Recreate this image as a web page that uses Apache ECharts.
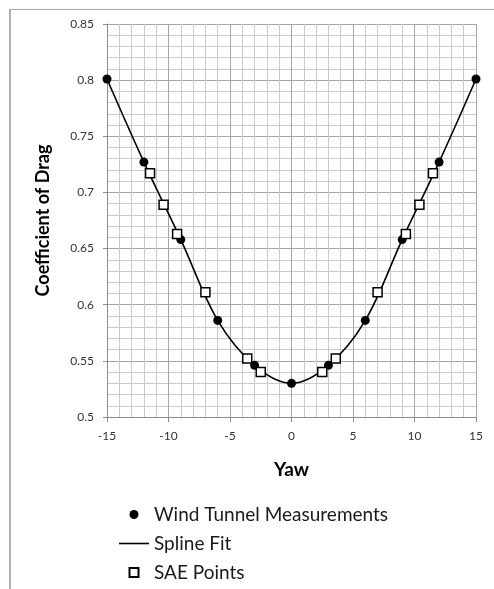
<!DOCTYPE html>
<html>
<head>
<meta charset="utf-8">
<script src="https://cdn.jsdelivr.net/npm/echarts@6/dist/echarts.min.js"></script>
<style>
  html, body { margin: 0; padding: 0; background: #fff; }
  #frame {
    position: absolute; left: 9px; top: 9px; width: 485px; height: 580px;
    border-top: 1px solid #a8a8a8; border-left: 2px solid #b0b0b0;
    box-sizing: border-box; pointer-events: none;
  }
  #myChart { position: absolute; left: 0; top: 0; width: 494px; height: 589px; }
</style>
</head>
<body>
<div id="frame"></div>
<div id="myChart"></div>
<script>
// wind tunnel measurements (yaw, Cd)
var windYaw = [-15, -12, -9, -6, -3, 0, 3, 6, 9, 12, 15];
var windCd = [0.801, 0.727, 0.658, 0.586, 0.546, 0.530, 0.546, 0.586, 0.658, 0.727, 0.801];

// SAE points
var saeYaw = [-11.5, -10.4, -9.3, -7.0, -3.6, -2.5, 2.5, 3.6, 7.0, 9.3, 10.4, 11.5];
var saeCd = [0.717, 0.689, 0.663, 0.611, 0.552, 0.540, 0.540, 0.552, 0.611, 0.663, 0.689, 0.717];

var labelFont = "Lato, 'Open Sans', sans-serif";

function pairs(xs, ys) {
  return xs.map(function (x, i) { return [x, ys[i]]; });
}

var myChart = echarts.init(document.getElementById("myChart"));
myChart.setOption({
  animation: false,
  grid: { left: 107, right: 18, top: 24, bottom: 172 },
  legend: {
    orient: "vertical",
    left: 114,
    top: 500,
    itemWidth: 30,
    itemHeight: 9,
    itemGap: 10,
    symbolKeepAspect: true,
    textStyle: { fontFamily: labelFont, fontSize: 19, color: "#1a1a1a" },
    data: [
      { name: "Wind Tunnel Measurements", icon: "circle" },
      { name: "Spline Fit", icon: "path://M0,0H30V1.6H0Z" },
      { name: "SAE Points", icon: "path://M0,0H10V10H0Z" }
    ]
  },
  xAxis: {
    type: "value",
    min: -15,
    max: 15,
    interval: 5,
    name: "Yaw",
    nameLocation: "middle",
    nameGap: 43,
    nameTextStyle: { fontFamily: labelFont, fontSize: 19, fontWeight: "bold", color: "#000" },
    axisLine: { onZero: false, lineStyle: { color: "#8c8c8c" } },
    axisTick: { show: true, length: 5, lineStyle: { color: "#8c8c8c" } },
    axisLabel: { fontFamily: labelFont, fontSize: 12, color: "#333", margin: 13 },
    splitLine: { show: true, lineStyle: { color: "#a6a6a6" } },
    minorTick: { show: false, splitNumber: 5 },
    minorSplitLine: { show: true, lineStyle: { color: "#cacaca" } }
  },
  yAxis: {
    type: "value",
    min: 0.5,
    max: 0.85,
    interval: 0.05,
    name: "Coefficient of Drag",
    nameLocation: "middle",
    nameGap: 55,
    nameTextStyle: { fontFamily: labelFont, fontSize: 18, fontWeight: "bold", color: "#000" },
    axisLine: { show: true, onZero: false, lineStyle: { color: "#8c8c8c" } },
    axisTick: { show: true, length: 4, lineStyle: { color: "#8c8c8c" } },
    axisLabel: { fontFamily: labelFont, fontSize: 12, color: "#333", margin: 13 },
    splitLine: { show: true, lineStyle: { color: "#a6a6a6" } },
    minorTick: { show: false, splitNumber: 5 },
    minorSplitLine: { show: true, lineStyle: { color: "#cacaca" } }
  },
  series: [
    {
      name: "Spline Fit",
      type: "line",
      smooth: 0.34,
      symbol: "none",
      z: 2,
      lineStyle: { color: "#000", width: 1.6 },
      itemStyle: { color: "#000" },
      data: pairs(windYaw, windCd)
    },
    {
      name: "Wind Tunnel Measurements",
      type: "scatter",
      symbol: "circle",
      symbolSize: 9,
      z: 3,
      itemStyle: { color: "#000", opacity: 1 },
      data: pairs(windYaw, windCd)
    },
    {
      name: "SAE Points",
      type: "scatter",
      symbol: "rect",
      symbolSize: 9,
      z: 4,
      itemStyle: { color: "#fff", borderColor: "#000", borderWidth: 1.5, opacity: 1 },
      data: pairs(saeYaw, saeCd)
    }
  ]
});
window.addEventListener("resize", () => {
  myChart.resize();
});
</script>
</body>
</html>
